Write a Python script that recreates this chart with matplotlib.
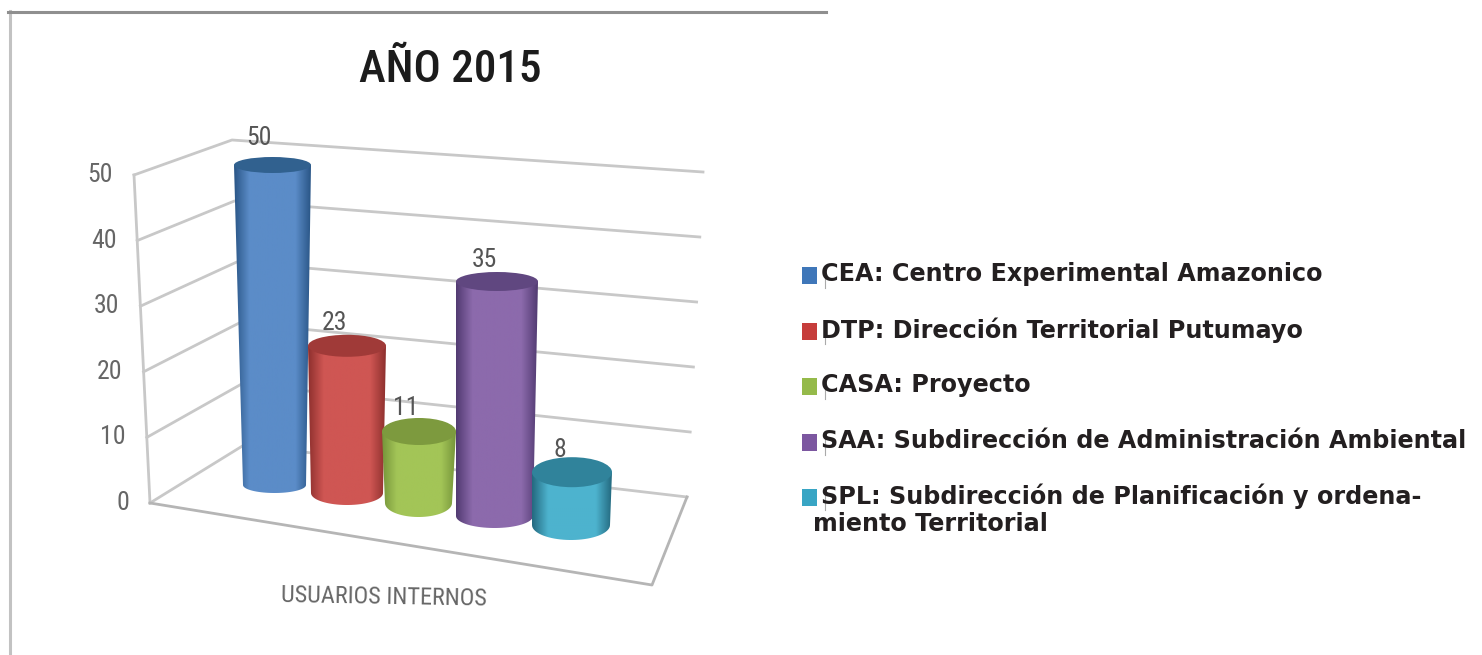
import numpy as np
import matplotlib
matplotlib.use("Agg")
import matplotlib.pyplot as plt
from matplotlib.colors import LinearSegmentedColormap
from matplotlib.patches import Ellipse, PathPatch, Rectangle
from matplotlib.path import Path

categories = ["CEA", "DTP", "CASA", "SAA", "SPL"]
values = [50, 23, 11, 35, 8]
y_ticks = [0, 10, 20, 30, 40, 50]
legend_labels = [
    "CEA: Centro Experimental Amazonico",
    "DTP: Dirección Territorial Putumayo",
    "CASA: Proyecto",
    "SAA: Subdirección de Administración Ambiental",
    "SPL: Subdirección de Planificación y ordena-",
]
legend_extra = "miento Territorial"
title = "AÑO 2015"
x_label = "USUARIOS INTERNOS"

# fake 3d box, pixel corners for value 0 and value 50
front_x, front_y = [150, 134], [503, 175]
back_x, back_y = [244, 232], [445, 140]
right_x, right_y = [687, 703], [497, 172]
floor_corner = (652, 585)

# cylinders: position of each base on screen
top_left = [234, 308, 382, 456, 532]
top_right = [311, 386, 456, 538, 612]
base_left = [243, 311, 385, 456, 532]
base_right = [306, 383, 452, 533, 610]
base_y = [485, 493, 503, 516, 525]
px_per_unit = [6.4, 6.4, 6.5, 6.7, 6.6]
top_half = [8, 11, 13.5, 9.5, 15]
base_half = [8, 12, 14, 12, 15]
label_dx = [-14, -13, -13, -13, -12]
label_dy = [-19, -12, -10, -12, -7]

mid_colors = ["#5b8cc8", "#cf5653", "#a3c557", "#8c6aac", "#4db3ce"]
edge_colors = ["#2a5687", "#8e302e", "#76953a", "#523b72", "#246a80"]
cap_colors = ["#31618f", "#a03a38", "#7d9a3e", "#604780", "#30839b"]
swatch_colors = ["#3f77b9", "#c63d3b", "#95ba4a", "#7c57a0", "#38a5c4"]
legend_y = [274, 330, 385, 441, 496]

plt.rcParams["font.family"] = ["Roboto Condensed", "DejaVu Sans"]

fig = plt.figure(figsize=(14.82, 6.55), dpi=100)
ax = fig.add_axes([0, 0, 1, 1])
ax.axis("off")

# scan border
ax.plot([9.5, 9.5], [11, 655], color="#c2c2c2", lw=2.2)
ax.plot([8, 826], [11.5, 11.5], color="#8f8f8f", lw=2.2)


def wall(xs, ys, v):
    return np.interp(v, [0, 50], xs), np.interp(v, [0, 50], ys)


grid = "#c8c8c8"
for t in y_ticks:
    fx, fy = wall(front_x, front_y, t)
    bx, by = wall(back_x, back_y, t)
    rx, ry = wall(right_x, right_y, t)
    ax.plot([fx, bx, rx], [fy, by, ry], color=grid, lw=2, zorder=1)
    ax.text(fx - 21, fy, str(t), ha="right", va="center", fontsize=18.5,
            color="#666666")

ax.plot([front_x[0], front_x[1]], [front_y[0], front_y[1]], color=grid, lw=2, zorder=1)
ax.plot([front_x[0], floor_corner[0], right_x[0]],
        [front_y[0], floor_corner[1], right_y[0]], color="#b5b5b5", lw=2, zorder=1)

for i, v in enumerate(values):
    y_top = base_y[i] - v * px_per_unit[i]
    xc_top = (top_left[i] + top_right[i]) / 2
    xc_base = (base_left[i] + base_right[i]) / 2
    half_base = (base_right[i] - base_left[i]) / 2

    t = np.linspace(0, np.pi, 40)
    arc_x = xc_base + half_base * np.cos(t)
    arc_y = base_y[i] + base_half[i] * np.sin(t)
    verts = [(top_left[i], y_top), (top_right[i], y_top)] + list(zip(arc_x, arc_y))
    verts.append((top_left[i], y_top))
    codes = [Path.MOVETO] + [Path.LINETO] * (len(verts) - 2) + [Path.CLOSEPOLY]

    cmap = LinearSegmentedColormap.from_list(
        "c", [(0, edge_colors[i]), (0.2, mid_colors[i]), (0.8, mid_colors[i]), (1, edge_colors[i])])
    z = 3 + i
    outline = PathPatch(Path(verts, codes), fc="none", ec="none", zorder=z)
    ax.add_patch(outline)
    im = ax.imshow(np.linspace(0, 1, 200)[None, :], cmap=cmap, aspect="auto",
                   extent=(top_left[i], top_right[i], base_y[i] + base_half[i] + 2, y_top),
                   zorder=z)
    im.set_clip_path(outline)
    ax.add_patch(Ellipse((xc_top, y_top), top_right[i] - top_left[i], 2 * top_half[i],
                         fc=cap_colors[i], ec="none", zorder=z + 0.5))
    ax.text(xc_top + label_dx[i], y_top - top_half[i] + label_dy[i], str(v), ha="center",
            va="center", fontsize=18.5, color="#555555", zorder=12)

ax.text(450, 70, title, ha="center", va="center", fontsize=32.5, color="#1c1c1c", fontweight=500)
ax.text(384, 597, x_label, ha="center", va="center", fontsize=17.5, color="#666666",
        rotation=-1)

for i, label in enumerate(legend_labels):
    ax.add_patch(Rectangle((802, legend_y[i] - 7), 15, 17, fc=swatch_colors[i], ec="none"))
    ax.plot([825, 825], [legend_y[i] - 4, legend_y[i] + 14], color="#aaaaaa", lw=0.8)
    ax.text(821, legend_y[i], label, ha="left", va="center", fontsize=17.2,
            fontweight="bold", color="#231f20", family=["DejaVu Sans"])
ax.text(813, legend_y[4] + 28, legend_extra, ha="left", va="center", fontsize=17.2,
        fontweight="bold", color="#231f20", family=["DejaVu Sans"])

ax.set_xlim(0, 1482)
ax.set_ylim(655, 0)

fig.savefig("out.png", dpi=100, facecolor="white")
